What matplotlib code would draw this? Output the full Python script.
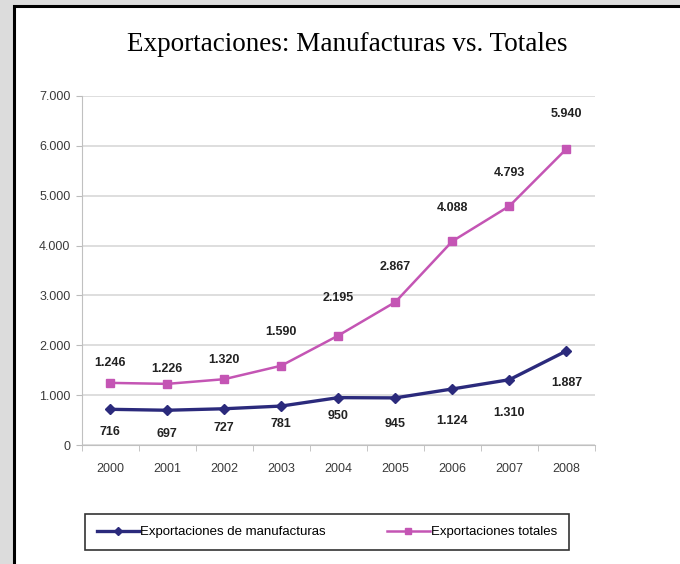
import matplotlib
matplotlib.use('Agg')
import matplotlib.pyplot as plt
from matplotlib.patches import Rectangle

years = ['2000', '2001', '2002', '2003', '2004', '2005', '2006', '2007', '2008']
manufacturas = [716, 697, 727, 781, 950, 945, 1124, 1310, 1887]
totales = [1246, 1226, 1320, 1590, 2195, 2867, 4088, 4793, 5940]
manuf_labels = ['716', '697', '727', '781', '950', '945', '1.124', '1.310', '1.887']
total_labels = ['1.246', '1.226', '1.320', '1.590', '2.195', '2.867', '4.088', '4.793', '5.940']
yticks = [0, 1000, 2000, 3000, 4000, 5000, 6000, 7000]
ytick_labels = ['0', '1.000', '2.000', '3.000', '4.000', '5.000', '6.000', '7.000']

navy = '#2b2a7c'
magenta = '#c455b4'

fig = plt.figure(figsize=(6.8, 5.64), dpi=100)
fig.patch.set_facecolor('#dcdcdc')

# white panel with black frame
panel = Rectangle((14 / 680, -0.05), 1.0, 1.05 - 6 / 564, transform=fig.transFigure,
                  facecolor='white', edgecolor='black', linewidth=2.2, zorder=-5)
fig.patches.append(panel)

fig.text(0.51, 0.921, 'Exportaciones: Manufacturas vs. Totales', ha='center', va='center',
         fontsize=19.5, family='Liberation Serif', color='black')

ax = plt.axes([81.5 / 680, 1 - 445 / 564, (595 - 81.5) / 680, (445 - 96) / 564])
ax.set_facecolor('none')
x = list(range(len(years)))

l1, = ax.plot(x, manufacturas, color=navy, lw=2.4, marker='D', markersize=5.5,
              label='Exportaciones de manufacturas', zorder=3)
l2, = ax.plot(x, totales, color=magenta, lw=1.8, marker='s', markersize=5.5,
              label='Exportaciones totales', zorder=3)

ax.set_xlim(-0.5, len(years) - 0.5)
ax.set_ylim(0, 7000)
ax.set_yticks(yticks)
ax.set_yticklabels(ytick_labels, fontsize=9, color='#3a3a3a', family='Liberation Sans')
ax.set_xticks(x)
ax.set_xticklabels(years, fontsize=9, color='#3a3a3a', family='Liberation Sans')
ax.set_xticks([i - 0.5 for i in range(len(years) + 1)], minor=True)
ax.tick_params(axis='x', which='major', length=0, pad=13)
ax.tick_params(axis='x', which='minor', length=4, color='#bbbbbb')
ax.tick_params(axis='y', length=4, color='#bbbbbb', pad=4)

ax.grid(axis='y', color='#d8d8d8', lw=1.2)
ax.set_axisbelow(True)
for s in ['top', 'right']:
    ax.spines[s].set_visible(False)
for s in ['left', 'bottom']:
    ax.spines[s].set_color('#c0c0c0')

lab_style = dict(fontsize=9, fontweight='bold', color='#222222', family='Liberation Sans',
                 ha='center', va='center', textcoords='offset points')

man_off = [-16, -17, -14, -13, -13, -19, -23, -24, -23]
tot_off = [14, 11, 14, 24, 27, 25, 24, 24, 25]
for i in x:
    ax.annotate(manuf_labels[i], (i, manufacturas[i]), xytext=(0, man_off[i]), **lab_style)
    ax.annotate(total_labels[i], (i, totales[i]), xytext=(0, tot_off[i]), **lab_style)

leg = fig.legend(handles=[l1, l2], loc='center', mode='expand',
                 bbox_to_anchor=(85 / 680, 1 - 553 / 564, (569 - 85) / 680, 42 / 564),
                 ncol=2, frameon=True, fancybox=False, edgecolor='black',
                 prop={'family': 'Liberation Sans', 'size': 9.5}, handlelength=3.2,
                 handletextpad=0.1, borderaxespad=0, borderpad=0.9, markerscale=0.8)
leg.get_frame().set_linewidth(1.2)

plt.savefig('out.png', dpi=100, facecolor=fig.get_facecolor())
